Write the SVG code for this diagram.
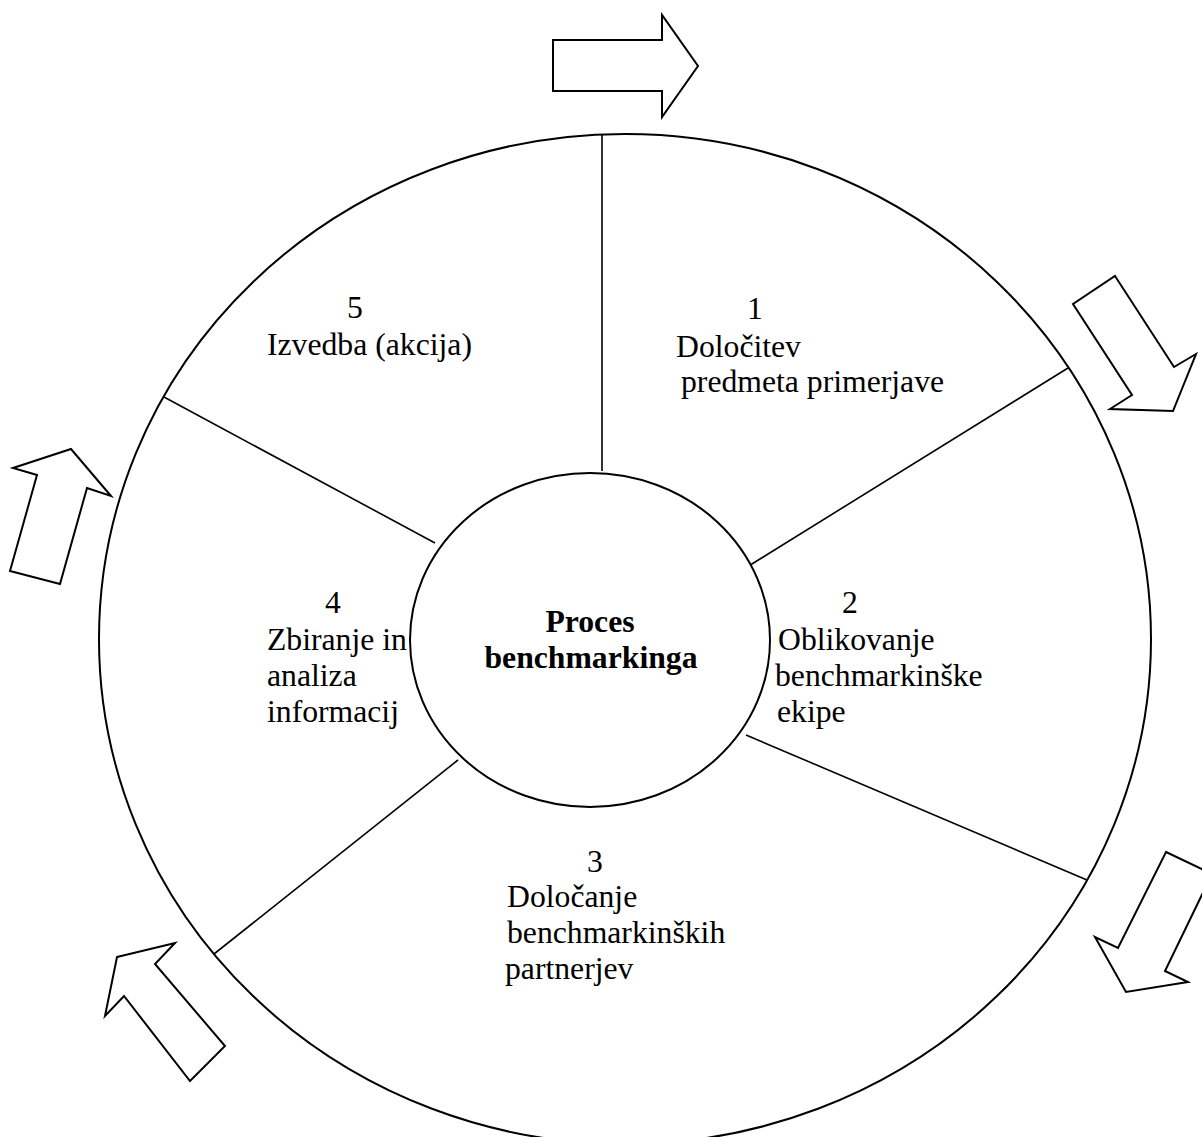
<svg xmlns="http://www.w3.org/2000/svg" width="1202" height="1137" viewBox="0 0 1202 1137">
  <style>
    .ring { fill: none; stroke: #000; stroke-width: 2; }
    .hub { fill: #fff; stroke: #000; stroke-width: 2; }
    .spoke { stroke: #000; stroke-width: 1.6; fill: none; }
    .flow { fill: #fff; stroke: #000; stroke-width: 2; stroke-linejoin: miter; }
    text { font-family: "Liberation Serif", "Times New Roman", serif; font-size: 31.7px; fill: #000; }
    .num { text-anchor: middle; }
    .title { font-weight: bold; text-anchor: middle; }
  </style>
  <rect width="1202" height="1137" fill="#fff"/>

  <!-- outer ring of the cycle -->
  <g id="cycle-ring">
    <ellipse class="ring" cx="625" cy="639" rx="526" ry="505"/>
  </g>

  <!-- spokes dividing the ring into five stages -->
  <g id="connectors">
    <line class="spoke" x1="602" y1="471" x2="602" y2="135"/>
    <line class="spoke" x1="747" y1="567" x2="1068" y2="368"/>
    <line class="spoke" x1="746" y1="735" x2="1087" y2="880"/>
    <line class="spoke" x1="458" y1="760" x2="214" y2="954"/>
    <line class="spoke" x1="435" y1="543" x2="164" y2="397"/>
  </g>

  <!-- direction arrows around the ring -->
  <g id="flow-arrows">
    <polygon id="arrow-top" class="flow" points="553,40 662,40 662,15 698,66 662,117 662,91 553,91"/>
    <polygon id="arrow-upper-right" class="flow" points="1115,276 1174,367 1196,354 1173,411 1110,409 1132,395 1073,304"/>
    <polygon id="arrow-lower-right" class="flow" points="1166,852 1212,874 1165,971 1188,982 1126,992 1095,937 1118,948"/>
    <polygon id="arrow-lower-left" class="flow" points="117,957 175,943 155,964 225,1046 190,1081 124,996 105,1016"/>
    <polygon id="arrow-left" class="flow" points="71,449 111,496 87,488 60,584 10,571 37,475 13,468"/>
  </g>

  <!-- central hub -->
  <g id="hub">
    <ellipse class="hub" cx="590" cy="640" rx="180" ry="167"/>
    <text class="title" x="590" y="632">Proces</text>
    <text class="title" x="591" y="668">benchmarkinga</text>
  </g>

  <g id="stage-1">
    <text class="num" x="755" y="319">1</text>
    <text x="676" y="357">Določitev</text>
    <text x="681" y="392">predmeta primerjave</text>
  </g>

  <g id="stage-2">
    <text class="num" x="850" y="613">2</text>
    <text x="778" y="650">Oblikovanje</text>
    <text x="775" y="686">benchmarkinške</text>
    <text x="777" y="722">ekipe</text>
  </g>

  <g id="stage-3">
    <text class="num" x="595" y="872">3</text>
    <text x="507" y="907">Določanje</text>
    <text x="507" y="943">benchmarkinških</text>
    <text x="505" y="979">partnerjev</text>
  </g>

  <g id="stage-4">
    <text class="num" x="333" y="613">4</text>
    <text x="267" y="650">Zbiranje in</text>
    <text x="267" y="686">analiza</text>
    <text x="267" y="722">informacij</text>
  </g>

  <g id="stage-5">
    <text class="num" x="355" y="318">5</text>
    <text x="267" y="355">Izvedba (akcija)</text>
  </g>
</svg>
